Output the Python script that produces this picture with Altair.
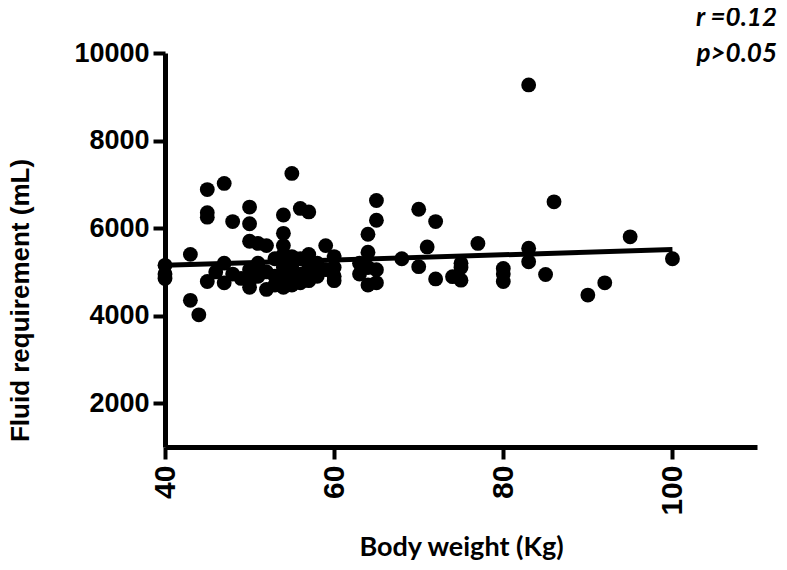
import altair as alt
import pandas as pd

# Body weight (kg) and fluid requirement (mL)
weight = [
    40, 40, 40, 43, 43, 44, 45, 45, 45, 45, 46, 47, 47, 47, 48, 48, 49,
    50, 50, 50, 50, 50, 50, 51, 51, 51, 52, 52, 52, 53, 53, 53,
    54, 54, 54, 54, 54, 54, 54, 55, 55, 55, 55, 55, 56, 56, 56, 56,
    57, 57, 57, 57, 58, 58, 59, 59, 60, 60, 60, 60, 63, 63,
    64, 64, 64, 64, 65, 65, 65, 65, 68, 70, 70, 71, 72, 72, 74,
    75, 75, 75, 77, 80, 80, 80, 83, 83, 83, 85, 86, 90, 92, 95, 100,
]
fluid = [
    5150, 4950, 4850, 5400, 4350, 4020, 6880, 6350, 6250, 4780, 5000, 7020, 5200, 4750, 6150, 4950, 4850,
    6480, 6100, 5700, 5050, 4800, 4650, 5650, 5200, 4900, 5600, 5000, 4600, 5300, 4900, 4700,
    6300, 5880, 5600, 5400, 5100, 4800, 4650, 7250, 5350, 5150, 5000, 4700, 6450, 5300, 4950, 4750,
    6370, 5400, 5100, 4800, 5200, 4900, 5600, 5050, 5350, 5100, 4900, 4800, 5200, 4950,
    5860, 5450, 5100, 4700, 6630, 6180, 5050, 4750, 5300, 6430, 5120, 5570, 6150, 4840, 4890,
    5200, 5100, 4810, 5650, 5080, 4950, 4780, 9270, 5540, 5230, 4940, 6600, 4470, 4750, 5800, 5300,
]

# Linear fit line endpoints
fit_weight = [40, 100]
fit_fluid = [5150, 5510]

x_ticks = [40, 60, 80, 100]
y_ticks = [2000, 4000, 6000, 8000, 10000]
x_domain = [40, 110]
y_domain = [1000, 10000]

stats_text = ["r =0.12", "p>0.05"]

pts = pd.DataFrame({"w": weight, "f": fluid})
fit = pd.DataFrame({"w": fit_weight, "f": fit_fluid})
ann_r = pd.DataFrame({"t": [stats_text[0]]})
ann_p = pd.DataFrame({"t": [stats_text[1]]})

x_enc = alt.X(
    "w:Q",
    scale=alt.Scale(domain=x_domain, nice=False, zero=False),
    axis=alt.Axis(
        values=x_ticks, title="Body weight (Kg)", labelAngle=-90, format="d",
        labelFontSize=30, labelPadding=6,
        titleFont="Lato", titleFontSize=27, titleFontWeight="bold",
        titleY=100, titleBaseline="middle",
    ),
)
y_enc = alt.Y(
    "f:Q",
    scale=alt.Scale(domain=y_domain, nice=False, zero=False),
    axis=alt.Axis(
        values=y_ticks, title="Fluid requirement (mL)", format="d",
        labelFontSize=27, labelPadding=4,
        titleFont="Liberation Sans", titleFontSize=26, titleFontWeight="bold",
        titleX=-145, titleY=247, titleAngle=270, titleBaseline="middle", titleAlign="center",
    ),
)

points = alt.Chart(pts).mark_circle(size=220, color="black", opacity=1).encode(x=x_enc, y=y_enc)
line = alt.Chart(fit).mark_line(color="black", strokeWidth=5).encode(x="w:Q", y="f:Q")

text_style = dict(font="Lato", fontSize=26, fontWeight="bold", fontStyle="italic",
                  align="right", baseline="middle", color="black")
text_r = alt.Chart(ann_r).mark_text(**text_style).encode(
    x=alt.value(612), y=alt.value(-35), text="t:N")
text_p = alt.Chart(ann_p).mark_text(**text_style).encode(
    x=alt.value(612), y=alt.value(1), text="t:N")

chart = alt.layer(points, line, text_r, text_p).properties(
    width=592, height=394,
    autosize=alt.AutoSizeParams(type="none"),
    padding={"left": 157, "top": 45, "right": 22, "bottom": 115},
).configure_view(stroke=None).configure_axis(
    grid=False,
    domainColor="black", domainWidth=5,
    tickColor="black", tickWidth=4, tickSize=12,
    labelFont="Liberation Sans", labelFontWeight="bold", labelColor="black",
    titleColor="black",
)

chart.save("out.html", embed_options={"renderer": "svg", "actions": False})
